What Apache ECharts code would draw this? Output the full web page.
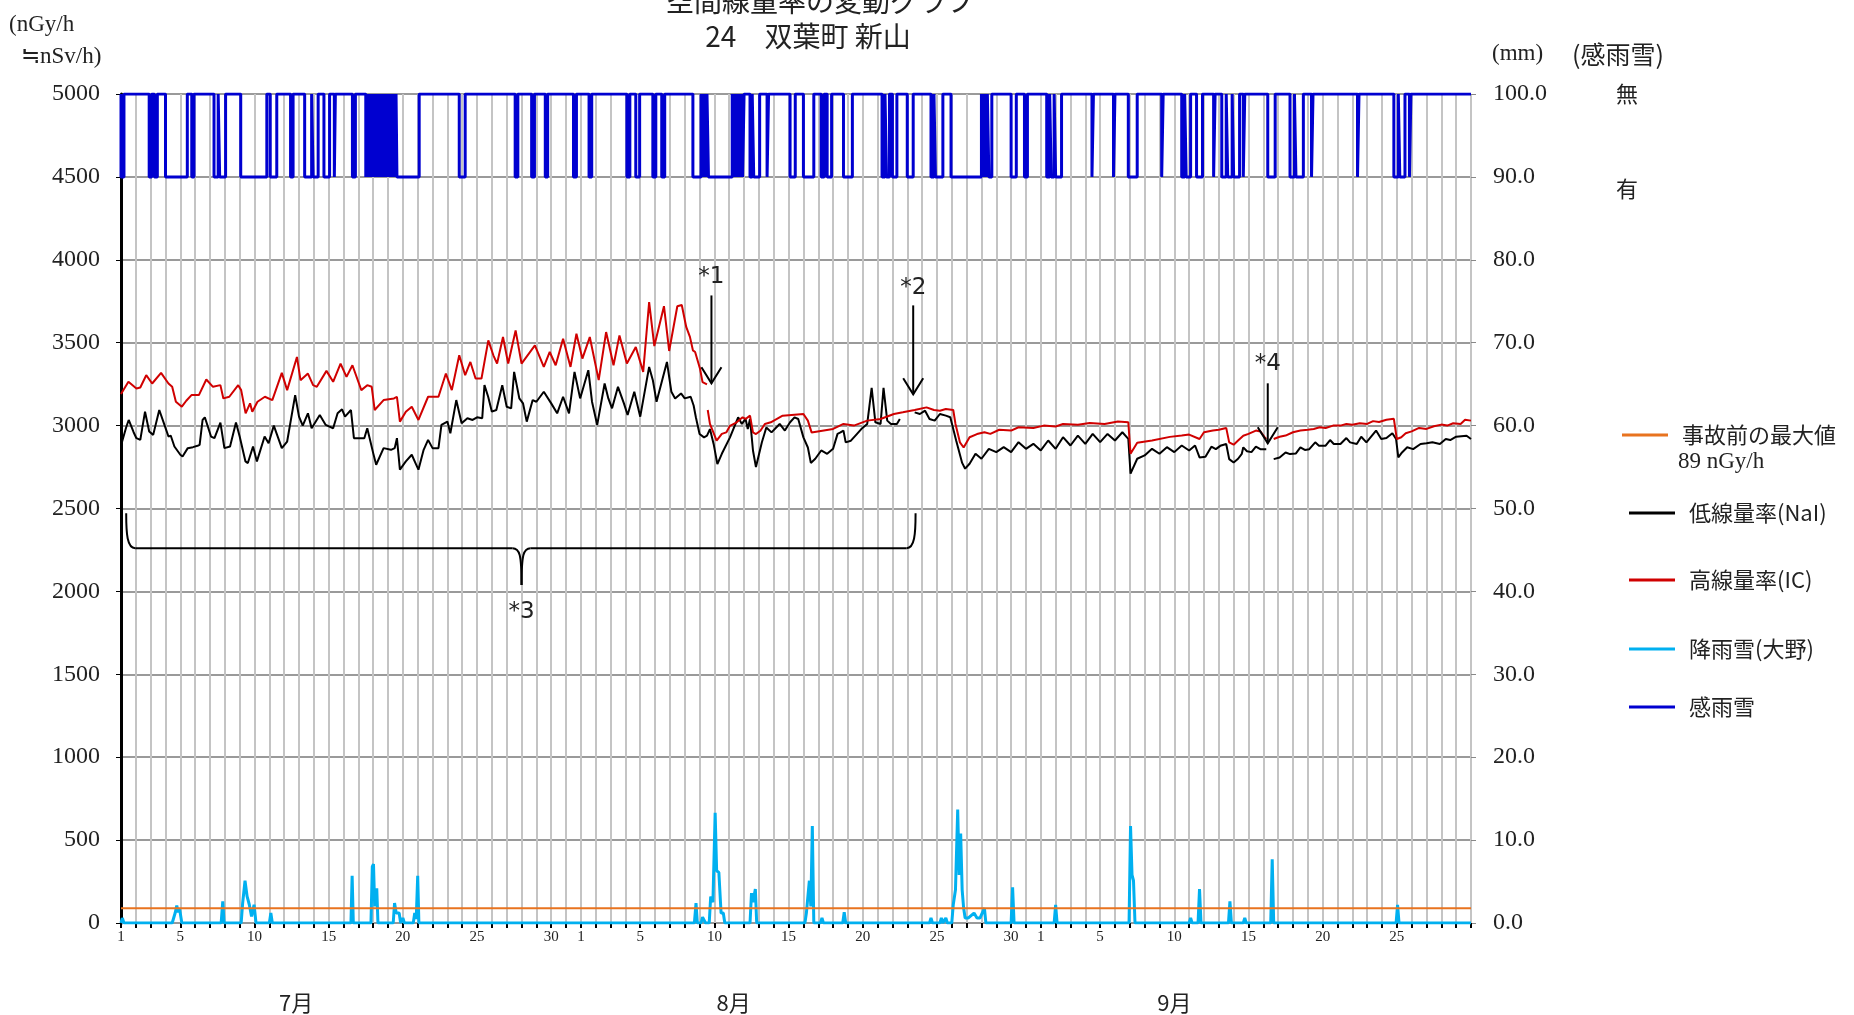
<!DOCTYPE html>
<html><head><meta charset="utf-8">
<script src="https://cdn.jsdelivr.net/npm/echarts/dist/echarts.min.js"></script>
<style>html,body{margin:0;padding:0;background:#fff}#c{width:1854px;height:1015px}</style>
</head><body><div id="c"></div>
<script>
// ---- axis / label data ----
const NUM_DAYS = 91;                       // Jul 1 00:00 .. Sep 30 00:00 (days)
const xLabelDays = [1, 5, 10, 15, 20, 25, 30];
const monthStarts = [0, 31, 62];
const monthNames = ['7月', '8月', '9月'];
const monthLabelDays = [11.8, 41.3, 71.0];
const leftTicks = {min: 0, max: 5000, interval: 500};
const rightTicks = {min: 0, max: 100, interval: 10};
const preAccidentMax = 89;                 // nGy/h

// ---- series data: [day since Jul 1, value] ----
const nai = [
[0.0,2880],[0.13,2884],[0.35,2990],[0.52,3034],[0.65,3044],[0.85,2960],[1.04,2924],[1.3,2914],[1.62,3084],[1.9,2964],[2.17,2944],[2.58,3094],[2.97,2994],[3.2,2934],[3.35,2940],[3.6,2874],[4.0,2824],[4.15,2814],[4.5,2864],[4.85,2870],[5.16,2878],[5.3,2884],[5.5,3034],[5.65,3050],[6.07,2934],[6.3,2924],[6.7,3018],[6.97,2864],[7.35,2874],[7.75,3018],[8.0,2934],[8.39,2784],[8.55,2774],[8.9,2874],[9.16,2784],[9.68,2934],[9.95,2894],[10.3,3000],[10.84,2864],[11.2,2904],[11.74,3184],[12.0,3054],[12.25,3000],[12.6,3074],[12.85,2984],[13.4,3064],[13.8,3004],[14.3,2984],[14.6,3074],[14.9,3098],[15.1,3054],[15.5,3094],[15.7,2924],[16.4,2924],[16.6,2984],[17.0,2834],[17.2,2764],[17.7,2864],[18.2,2854],[18.45,2864],[18.6,2924],[18.8,2734],[19.2,2784],[19.6,2824],[19.85,2774],[20.05,2734],[20.4,2854],[20.7,2914],[21.0,2864],[21.4,2864],[21.6,3004],[22.0,3024],[22.2,2954],[22.6,3154],[22.96,3014],[23.35,3044],[23.7,3034],[24.0,3050],[24.35,3044],[24.5,3244],[24.75,3174],[25.0,3084],[25.3,3094],[25.7,3244],[26.0,3114],[26.3,3104],[26.5,3324],[26.85,3164],[27.1,3134],[27.35,3024],[27.75,3154],[28.0,3144],[28.5,3204],[29.0,3134],[29.4,3074],[29.8,3174],[30.2,3074],[30.57,3324],[30.95,3164],[31.5,3334],[31.75,3144],[32.1,3004],[32.6,3254],[32.85,3164],[33.1,3104],[33.5,3234],[33.9,3134],[34.15,3064],[34.6,3204],[35.0,3054],[35.6,3354],[35.85,3274],[36.1,3144],[36.8,3384],[37.1,3204],[37.35,3164],[37.75,3194],[38.0,3164],[38.4,3174],[38.6,3121],[38.75,3050],[39.0,2949],[39.3,2929],[39.5,2939],[39.7,2979],[39.95,2888],[40.2,2768],[40.5,2830],[41.05,2929],[41.6,3050],[41.85,3010],[42.1,3040],[42.25,2980],[42.4,3040],[42.6,2850],[42.8,2750],[43.2,2900],[43.5,2989],[43.85,2959],[44.4,3010],[44.75,2970],[45.1,3020],[45.4,3050],[45.65,3040],[46.0,2929],[46.3,2868],[46.5,2775],[46.8,2800],[47.2,2850],[47.6,2830],[48.0,2860],[48.3,2950],[48.5,2959],[48.7,2970],[48.85,2899],[49.2,2909],[49.6,2949],[49.9,2979],[50.3,3010],[50.6,3228],[50.85,3020],[51.2,3010],[51.4,3228],[51.65,3030],[51.9,3010],[52.3,3010],[52.5,3040],[53.0,'-'],[53.5,3080],[53.85,3070],[54.2,3090],[54.5,3040],[54.85,3030],[55.2,3070],[55.6,3060],[55.9,3050],[56.3,2909],[56.7,2775],[56.9,2740],[57.2,2770],[57.6,2830],[58.0,2800],[58.5,2860],[59.0,2840],[59.5,2870],[60.0,2840],[60.5,2900],[61.0,2860],[61.5,2890],[62.0,2850],[62.5,2910],[63.0,2860],[63.5,2930],[64.0,2880],[64.5,2940],[65.0,2890],[65.5,2950],[66.0,2900],[66.5,2950],[67.0,2910],[67.5,2960],[67.9,2920],[68.05,2710],[68.5,2800],[69.0,2820],[69.5,2860],[70.0,2830],[70.5,2870],[71.0,2840],[71.5,2880],[72.0,2850],[72.4,2880],[72.7,2808],[73.1,2812],[73.5,2873],[73.8,2858],[74.1,2878],[74.5,2889],[74.7,2798],[75.0,2777],[75.3,2800],[75.55,2830],[75.65,2869],[75.9,2845],[76.2,2840],[76.5,2873],[76.8,2858],[77.2,2858],[77.45,'-'],[77.7,2798],[78.1,2808],[78.5,2838],[78.8,2828],[79.2,2832],[79.5,2869],[79.8,2853],[80.1,2858],[80.5,2899],[80.75,2879],[81.2,2879],[81.5,2913],[81.75,2889],[82.2,2889],[82.6,2925],[82.85,2899],[83.3,2889],[83.6,2933],[83.95,2899],[84.6,2970],[84.95,2919],[85.3,2925],[85.7,2954],[85.95,2919],[86.1,2808],[86.35,2838],[86.7,2869],[87.1,2858],[87.6,2889],[88.0,2893],[88.4,2899],[88.9,2889],[89.3,2919],[89.6,2913],[90.0,2933],[90.7,2939],[91.0,2919]
];
const ic = [
[0.0,3190],[0.13,3198],[0.5,3264],[1.04,3224],[1.3,3230],[1.7,3304],[2.1,3254],[2.7,3318],[3.2,3254],[3.45,3234],[3.7,3144],[4.1,3114],[4.4,3150],[4.75,3184],[5.25,3184],[5.75,3278],[6.2,3234],[6.7,3244],[6.9,3164],[7.3,3174],[7.9,3244],[8.1,3214],[8.4,3074],[8.7,3134],[8.85,3084],[9.2,3144],[9.7,3174],[10.2,3154],[10.84,3318],[11.2,3214],[11.86,3414],[12.1,3274],[12.6,3314],[12.95,3244],[13.2,3234],[13.85,3330],[14.3,3264],[14.8,3374],[15.2,3294],[15.6,3364],[16.2,3214],[16.6,3244],[16.9,3234],[17.1,3094],[17.7,3154],[18.4,3164],[18.6,3174],[18.8,3024],[19.2,3084],[19.6,3114],[20.05,3034],[20.7,3174],[21.4,3174],[21.9,3314],[22.3,3214],[22.8,3424],[23.2,3304],[23.55,3384],[23.9,3284],[24.3,3284],[24.76,3514],[25.1,3424],[25.35,3374],[25.75,3534],[26.1,3374],[26.6,3574],[27.0,3374],[27.9,3484],[28.5,3354],[28.9,3444],[29.3,3364],[29.8,3524],[30.3,3354],[30.7,3554],[31.1,3404],[31.6,3534],[32.2,3274],[32.7,3564],[33.2,3364],[33.6,3544],[34.1,3374],[34.7,3474],[35.2,3324],[35.6,3745],[35.95,3480],[36.6,3720],[36.95,3450],[37.5,3720],[37.8,3727],[38.1,3595],[38.35,3535],[38.55,3454],[38.7,3444],[39.03,3343],[39.2,3262],[39.5,3248],[39.52,'-'],[39.55,3094],[39.65,3094],[39.7,3010],[40.15,2909],[40.5,2950],[40.8,2959],[41.05,2999],[41.5,3020],[41.9,3050],[42.1,3040],[42.4,3060],[42.6,2959],[42.8,2949],[43.1,2969],[43.4,3010],[43.8,3020],[44.6,3060],[46.0,3070],[46.3,3030],[46.55,2959],[46.6,2949],[48.0,2980],[48.7,3010],[49.4,3000],[50.3,3030],[51.2,3040],[52.1,3070],[52.7,3080],[53.5,3094],[54.3,3110],[54.8,3094],[55.2,3090],[55.6,3100],[56.1,3094],[56.25,3010],[56.55,2899],[56.8,2868],[57.2,2930],[57.7,2949],[58.2,2960],[58.6,2950],[59.2,2975],[60.0,2970],[60.5,2990],[61.5,2985],[62.2,3000],[63.0,2995],[63.5,3010],[64.5,3005],[65.3,3015],[66.3,3010],[67.2,3025],[67.9,3020],[68.05,2830],[68.5,2896],[69.5,2910],[70.7,2932],[71.5,2940],[72.0,2946],[72.7,2919],[73.0,2960],[73.6,2970],[74.0,2975],[74.5,2986],[74.7,2899],[75.0,2885],[75.3,2910],[75.65,2939],[76.0,2950],[76.5,2970],[76.8,2965],[77.1,2929],[77.2,2919],[77.45,'-'],[77.7,2919],[78.1,2933],[78.5,2940],[79.0,2960],[79.5,2970],[80.0,2975],[80.4,2980],[80.8,2990],[81.2,2986],[81.7,3000],[82.2,3000],[82.6,3010],[83.0,3005],[83.5,3014],[84.0,3010],[84.4,3027],[84.8,3022],[85.3,3035],[85.8,3041],[86.0,2919],[86.3,2930],[86.6,2954],[87.0,2965],[87.5,2986],[88.0,2980],[88.5,2996],[89.0,3006],[89.4,3000],[89.8,3014],[90.3,3010],[90.6,3035],[91.0,3030]
];
const rainfall = [
[0,0],[0.09,0.6],[0.2,0],[3.45,0],[3.55,0.6],[3.65,1.2],[3.76,2.1],[3.85,1.3],[3.95,1.7],[4.1,0],
[6.75,0],[6.86,2.6],[6.95,0],[8.1,0],[8.2,2.4],[8.36,5.1],[8.5,3.2],[8.65,2.2],[8.8,0.8],[8.97,2.2],[9.1,0],
[10.0,0],[10.1,1.2],[10.2,0],[15.5,0],[15.58,5.7],[15.66,0],[16.85,0],[16.94,6.8],[17.02,7.1],[17.1,2.0],[17.24,4.2],[17.32,0],
[18.35,0],[18.44,2.4],[18.55,1.2],[18.75,1.2],[18.85,0],[18.95,0],[19.0,0.6],[19.1,0],[19.7,0],[19.8,1.2],[19.9,0.5],[20.0,5.7],[20.08,0],
[38.65,0],[38.76,2.4],[38.85,0],[39.1,0],[39.2,0.7],[39.3,0.7],[39.4,0],[39.65,0],[39.75,3.2],[39.9,2.5],[40.05,13.3],[40.15,6.3],[40.3,6.1],[40.45,1.2],[40.6,1.2],[40.7,0],
[42.4,0],[42.5,3.6],[42.6,2.5],[42.76,4.1],[42.85,0],[46.1,0],[46.2,1.2],[46.4,5.1],[46.5,2.0],[46.6,11.7],[46.7,0],[47.15,0],[47.25,0.6],[47.35,0],[48.65,0],[48.75,1.3],[48.85,0],
[54.5,0],[54.6,0.6],[54.7,0],[55.2,0],[55.3,0.6],[55.4,0],[55.5,0],[55.6,0.6],[55.7,0],[56.0,0],[56.1,2.2],[56.25,4.0],[56.4,13.7],[56.5,5.8],[56.6,10.8],[56.7,4.0],[56.8,1.8],[56.9,0.6],[57.1,0.6],[57.5,1.2],[57.7,0.6],[57.9,0.6],[58.2,1.8],[58.3,0],
[60.0,0],[60.1,4.3],[60.2,0],[62.9,0],[63.0,2.2],[63.1,0],[67.95,0],[68.05,11.7],[68.15,5.8],[68.25,5.1],[68.35,0],
[72.0,0],[72.1,0.6],[72.2,0],[72.6,0],[72.7,4.1],[72.8,0],[74.65,0],[74.75,2.6],[74.85,0],[75.65,0],[75.75,0.6],[75.85,0],[77.5,0],[77.6,7.7],[77.7,0],
[85.95,0],[86.05,2.2],[86.15,0],[91,0]
];
// rain-sensor "有" periods [start day, end day]
const rainSense = [
[0,0.2],[1.9,2.07],[2.25,2.45],[3.0,4.47],[4.77,4.92],[6.27,6.55],[6.65,7.05],[8.07,9.83],[10.06,10.5],[11.43,11.6],[12.38,12.85],[12.95,13.29],[13.68,14.06],[14.38,14.45],[15.6,15.8],
[16.5,16.58],[16.64,16.72],[16.78,16.86],[16.92,17.0],[17.06,17.14],[17.2,17.28],[17.34,17.42],[17.48,17.56],[17.62,17.7],[17.76,17.84],[17.9,17.98],[18.04,18.12],[18.18,18.26],[18.32,18.4],[18.46,18.54],[18.6,20.1],
[22.8,23.2],[26.57,26.75],[27.68,27.87],[28.6,28.76],[30.5,30.7],[31.55,31.73],[34.1,34.3],[34.7,34.96],[35.85,36.05],[36.45,36.65],
[38.55,39.1],[39.2,39.3],[39.4,39.5],[39.6,41.2],[41.3,41.4],[41.5,41.6],[41.7,41.8],[41.9,42.0],[42.4,42.55],[42.65,43.05],[43.55,43.65],[45.1,45.45],[46.0,46.7],[47.2,47.4],[47.6,47.9],[48.7,49.3],
[51.3,51.5],[51.6,51.8],[52.0,52.3],[53.0,53.4],[54.6,54.8],[54.9,55.4],[55.95,58.0],[58.1,58.2],[58.3,58.4],[58.5,58.7],[60.0,60.35],[60.9,61.1],[62.4,62.6],[62.7,62.9],[63.0,63.4],
[65.45,65.55],[66.9,67.0],[67.9,68.5],[70.15,70.25],[71.5,71.7],[71.8,72.1],[72.5,72.9],[73.65,73.75],[74.2,74.5],[74.6,74.9],[75.0,75.4],[75.65,75.75],[77.3,77.8],[78.8,79.1],[79.2,79.7],[80.25,80.35],[83.35,83.45],[85.8,86.1],[86.2,86.55],[86.85,86.95]
];
// annotations (data coordinates on left axis)
const arrowNotes = [
  {label: '*1', day: 39.8, top: 3785, tip: 3255, text: 3899},
  {label: '*2', day: 53.4, top: 3725, tip: 3189, text: 3827},
  {label: '*4', day: 77.3, top: 3255, tip: 2893, text: 3372}
];
const braceNote = {label: '*3', from: 0.35, to: 53.56, mid: 27.0, top: 2472, bar: 2261, tip: 2038, text: 1875};

// ---- helpers ----
function domOf(v) { let m = 0; for (let i = 0; i < monthStarts.length; i++) if (v >= monthStarts[i]) m = i; return v - monthStarts[m] + 1; }
function senseSteps(iv) {
  const pts = [[0, 0]];
  iv.forEach(([s, e]) => { pts.push([s, 0], [s, 1], [e, 1], [e, 0]); });
  pts.push([NUM_DAYS, 0]);
  return pts;
}
const SERIF = "'Liberation Serif','Noto Sans CJK JP',serif";
const CJK = "'Noto Sans CJK JP','Liberation Serif',sans-serif";

const chart = echarts.init(document.getElementById('c'), null, {renderer: 'canvas'});
const names = {
  pre: '事故前の最大値', nai: '低線量率(NaI)', ic: '高線量率(IC)', rain: '降雨雪(大野)', sense: '感雨雪'
};
function oneLegend(name, left, cy) {
  return {
    data: [name], left: left, top: cy - 13, padding: 0, orient: 'vertical',
    icon: 'rect', itemWidth: 46, itemHeight: 3, selectedMode: false,
    textStyle: {fontFamily: CJK, fontSize: 22, color: '#222', lineHeight: 26, padding: [0, 0, 0, 9]}
  };
}
chart.setOption({
  animation: false,
  backgroundColor: '#fff',
  grid: {left: 121, right: 383, top: 94, bottom: 92, containLabel: false, outerBoundsMode: 'none'},
  legend: [
    oneLegend(names.pre, 1622, 435),
    oneLegend(names.nai, 1629, 513),
    oneLegend(names.ic, 1629, 580),
    oneLegend(names.rain, 1629, 649),
    oneLegend(names.sense, 1629, 707)
  ],
  xAxis: {
    type: 'value', min: 0, max: NUM_DAYS, interval: 1,
    axisLine: {show: true, lineStyle: {color: '#999', width: 1}},
    axisTick: {show: true, length: 5, lineStyle: {color: '#000', width: 2}},
    axisLabel: {
      margin: 7, fontFamily: SERIF, fontSize: 15, color: '#222', hideOverlap: false,
      formatter: v => (v < NUM_DAYS && xLabelDays.includes(domOf(v))) ? String(domOf(v)) : ''
    },
    splitLine: {show: true, lineStyle: {color: '#C4C4C4', width: 2}}
  },
  yAxis: [
    {
      type: 'value', position: 'left', min: leftTicks.min, max: leftTicks.max, interval: leftTicks.interval,
      axisLine: {show: true, lineStyle: {color: '#000', width: 3}},
      axisTick: {show: true, length: 5, lineStyle: {color: '#000', width: 1}},
      axisLabel: {margin: 21, fontFamily: SERIF, fontSize: 24, color: '#222', formatter: v => String(v)},
      splitLine: {show: true, lineStyle: {color: '#9A9A9A', width: 2}}
    },
    {
      type: 'value', position: 'right', min: rightTicks.min, max: rightTicks.max, interval: rightTicks.interval,
      axisLine: {show: false},
      axisTick: {show: true, length: 5, lineStyle: {color: '#888', width: 1}},
      axisLabel: {margin: 22, fontFamily: SERIF, fontSize: 24, color: '#222', formatter: v => v.toFixed(1)},
      splitLine: {show: false}
    },
    {
      type: 'value', position: 'right', offset: 137, inverse: true, min: 0, max: 10, interval: 1,
      axisLine: {show: false}, axisTick: {show: false}, splitLine: {show: false},
      axisLabel: {
        margin: 8, fontFamily: CJK, fontSize: 22, color: '#222',
        formatter: v => v === 0 ? '無' : (v === 1 ? '{d|有}' : ''),
        rich: {d: {fontFamily: CJK, fontSize: 22, color: '#222', padding: [24, 0, 0, 0]}}
      }
    }
  ],
  series: [
    {name: names.rain, type: 'line', yAxisIndex: 1, data: rainfall, symbol: 'none', color: '#00B0F0',
      lineStyle: {color: '#00B0F0', width: 3}, z: 3},
    {name: names.pre, type: 'line', yAxisIndex: 0, data: [[0, preAccidentMax], [NUM_DAYS, preAccidentMax]], symbol: 'none',
      color: '#E8731F', lineStyle: {color: '#E8731F', width: 2}, z: 4},
    {name: names.nai, type: 'line', yAxisIndex: 0, data: nai, symbol: 'none', color: '#000',
      lineStyle: {color: '#000', width: 2}, z: 5},
    {name: names.ic, type: 'line', yAxisIndex: 0, data: ic, symbol: 'none', color: '#D00000',
      lineStyle: {color: '#D00000', width: 2}, z: 6},
    {name: names.sense, type: 'line', yAxisIndex: 2, data: senseSteps(rainSense), symbol: 'none', color: '#0000D0',
      lineStyle: {color: '#0000D0', width: 3}, z: 7}
  ]
});

// ---- text & annotation graphics ----
function P(d, v) { return chart.convertToPixel({xAxisIndex: 0, yAxisIndex: 0}, [d, v]); }
const g = [];
function txt(x, y, s, size, font, align) {
  g.push({type: 'text', x: x, y: y, z: 100, style: {text: s, fontSize: size, fontFamily: font, fill: '#222',
    textAlign: align || 'left', textVerticalAlign: 'middle'}});
}
const stroke = {stroke: '#000', lineWidth: 2, fill: null};
txt(820, 1, '空間線量率の変動グラフ', 28, CJK, 'center');
txt(808, 36, '24　双葉町 新山', 28, CJK, 'center');
txt(9, 25, '(nGy/h', 23, SERIF);
txt(21, 57, '≒nSv/h)', 23, SERIF);
txt(1492, 54, '(mm)', 23, SERIF);
txt(1572, 54, '(感雨雪)', 25, CJK);
txt(1678, 462, '89 nGy/h', 23, SERIF);
monthLabelDays.forEach((d, i) => { const p = P(d, 0); txt(p[0], 1003, monthNames[i], 22, CJK, 'center'); });

arrowNotes.forEach(a => {
  const t = P(a.day, a.top), k = P(a.day, a.tip), q = P(a.day, a.text);
  g.push({type: 'line', z: 100, shape: {x1: t[0], y1: t[1], x2: k[0], y2: k[1]}, style: stroke});
  g.push({type: 'polyline', z: 100, shape: {points: [[k[0] - 10, k[1] - 16], [k[0], k[1]], [k[0] + 10, k[1] - 16]]}, style: stroke});
  txt(q[0], q[1], a.label, 23, "'DejaVu Sans',sans-serif", 'center');
});
(function () {
  const b = braceNote;
  const L = P(b.from, b.top), R = P(b.to, b.top), M = P(b.mid, b.tip), bar = P(b.mid, b.bar)[1];
  const xl = L[0], xr = R[0], xm = M[0], yt = L[1], yb = bar, yk = M[1];
  const bz = (x1, y1, c1x, c1y, c2x, c2y, x2, y2) =>
    g.push({type: 'bezierCurve', z: 100, shape: {x1, y1, x2, y2, cpx1: c1x, cpy1: c1y, cpx2: c2x, cpy2: c2y}, style: stroke});
  const ln = (x1, y1, x2, y2) => g.push({type: 'line', z: 100, shape: {x1, y1, x2, y2}, style: stroke});
  bz(xl, yt, xl, yb - 14, xl + 1, yb, xl + 9, yb);
  ln(xl + 9, yb, xm - 9, yb);
  bz(xm - 9, yb, xm - 2, yb, xm, yb + 6, xm, yk);
  bz(xm, yk, xm, yb + 6, xm + 2, yb, xm + 9, yb);
  ln(xm + 9, yb, xr - 9, yb);
  bz(xr - 9, yb, xr - 1, yb, xr, yb - 14, xr, yt);
  const q = P(b.mid, b.text);
  txt(q[0], q[1], b.label, 23, "'DejaVu Sans',sans-serif", 'center');
})();
chart.setOption({graphic: g});
</script>
</body></html>
